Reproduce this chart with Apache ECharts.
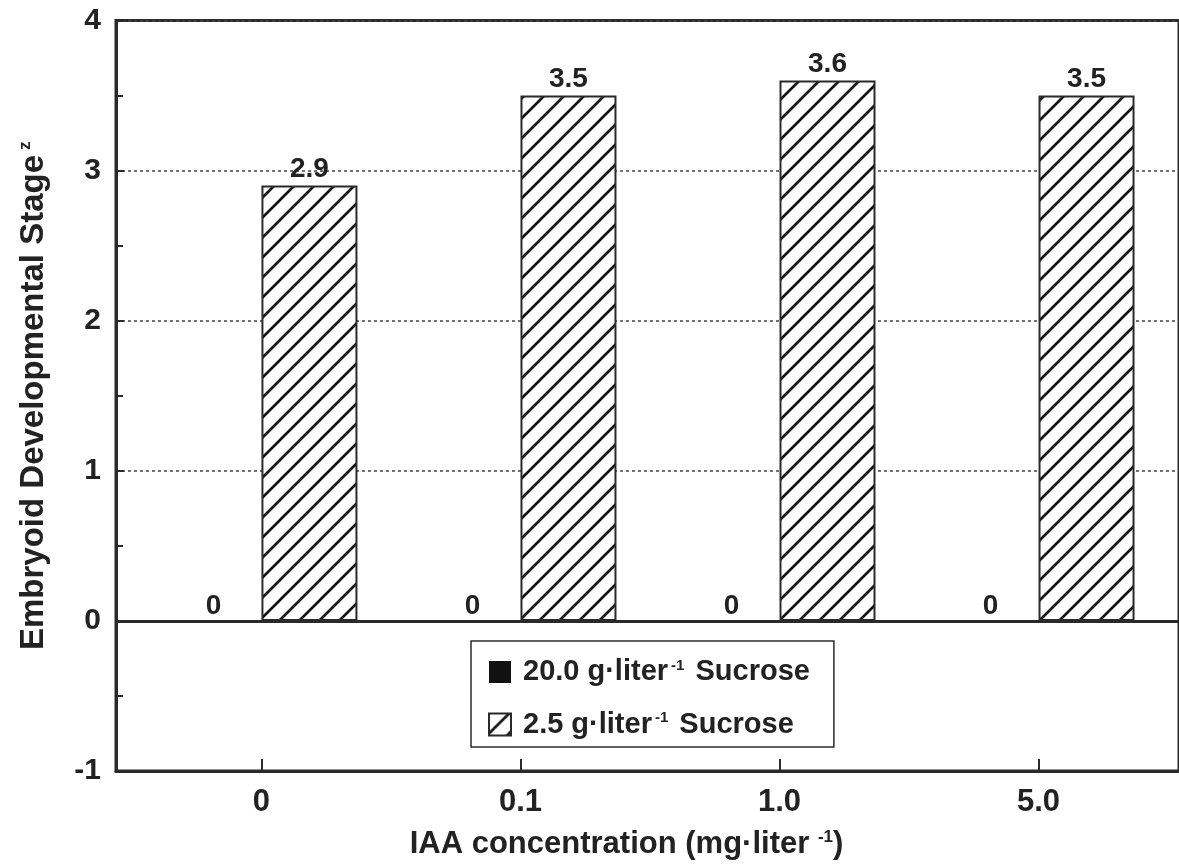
<!DOCTYPE html>
<html>
<head>
<meta charset="utf-8">
<script src="https://cdn.jsdelivr.net/npm/echarts@6/dist/echarts.min.js"></script>
<style>
  html, body { margin: 0; padding: 0; background: #ffffff; }
  #chart { width: 1179px; height: 865px; }
</style>
</head>
<body>
<div id="chart"></div>
<script>
// IAA treatments (x categories) and sucrose levels (series)
const iaaLevels = ['0', '0.1', '1.0', '5.0'];
const sucroseLevels = ['20.0', '2.5'];
// Mean embryoid developmental stage per IAA level
const stageHighSucrose = [0, 0, 0, 0];
const stageLowSucrose = [2.9, 3.5, 3.6, 3.5];

const FONT = '"Liberation Sans", Arial, Helvetica, sans-serif';
const INK = '#222222';
const LINE = '#2a2a2a';

// Diagonal "/" hatching used for the low-sucrose bars
function hatchPattern() {
  const s = 20;
  const c = document.createElement('canvas');
  c.width = s; c.height = s;
  const g = c.getContext('2d');
  g.fillStyle = '#ffffff';
  g.fillRect(0, 0, s, s);
  g.strokeStyle = '#161616';
  g.lineWidth = 2.7;
  g.beginPath();
  g.moveTo(-2, s + 2); g.lineTo(s + 2, -2);
  g.moveTo(-2, 2); g.lineTo(2, -2);
  g.moveTo(s - 2, s + 2); g.lineTo(s + 2, s - 2);
  g.stroke();
  return c;
}

const toPoints = (vals) => vals.map((v, i) => [i, v]);

const valueLabel = (dist) => ({
  show: true,
  position: 'top',
  distance: dist,
  formatter: (p) => String(p.value[1]),
  fontFamily: FONT,
  fontWeight: 'bold',
  fontSize: 28,
  color: INK
});

const chart = echarts.init(document.getElementById('chart'), null, { renderer: 'canvas' });

chart.setOption({
  animation: false,
  backgroundColor: '#ffffff',
  grid: {
    left: 116,
    top: 20.5,
    right: -3,
    bottom: 92,
    show: true,
    borderColor: LINE,
    borderWidth: 3,
    backgroundColor: 'transparent'
  },
  legend: {
    orient: 'vertical',
    left: 471,
    top: 641,
    padding: [16, 24, 8, 17],
    itemWidth: 22,
    itemHeight: 22,
    itemGap: 23,
    icon: 'rect',
    backgroundColor: '#ffffff',
    borderColor: LINE,
    borderWidth: 1.5,
    borderRadius: 0,
    selectedMode: false,
    data: sucroseLevels,
    formatter: (name) => '{t|' + name + ' g·liter}{sup|-1}{t| Sucrose}',
    textStyle: {
      fontFamily: FONT,
      fontWeight: 'bold',
      fontSize: 29,
      color: INK,
      padding: [0, 0, 0, 7],
      rich: {
        t: { fontFamily: FONT, fontWeight: 'bold', fontSize: 29, color: INK, lineHeight: 30 },
        sup: { fontFamily: FONT, fontWeight: 'bold', fontSize: 15, color: INK, verticalAlign: 'top', lineHeight: 16, padding: [1, 3, 0, 3] }
      }
    }
  },
  xAxis: {
    type: 'value',
    min: -0.5615,
    max: 3.5423,
    name: 'IAA concentration (mg·liter {sup|-1})',
    nameLocation: 'middle',
    nameGap: 58,
    nameTextStyle: {
      fontFamily: FONT,
      fontWeight: 'bold',
      fontSize: 31,
      color: INK,
      padding: [0, 42, 0, 0],
      rich: {
        sup: { fontFamily: FONT, fontWeight: 'bold', fontSize: 17, color: INK, verticalAlign: 'top', lineHeight: 19 }
      }
    },
    axisLine: { show: true, onZero: false, lineStyle: { color: LINE, width: 3 } },
    axisTick: { show: true, inside: true, length: 12, customValues: [0, 1, 2, 3], lineStyle: { color: LINE, width: 2 } },
    axisLabel: {
      customValues: [0, 1, 2, 3],
      formatter: (v) => iaaLevels[Math.round(v)] ?? '',
      margin: 16,
      fontFamily: FONT,
      fontWeight: 'bold',
      fontSize: 31,
      color: INK
    },
    splitLine: { show: false }
  },
  yAxis: {
    type: 'value',
    min: -1,
    max: 4,
    interval: 1,
    name: 'Embryoid Developmental Stage{sup|z}',
    nameLocation: 'middle',
    nameGap: 66,
    nameTextStyle: {
      fontFamily: FONT,
      fontWeight: 'bold',
      fontSize: 33,
      color: INK,
      rich: {
        sup: { fontFamily: FONT, fontWeight: 'bold', fontSize: 17, color: INK, verticalAlign: 'top', lineHeight: 18, padding: [0, 0, 0, 5] }
      }
    },
    axisLine: { show: true, onZero: false, lineStyle: { color: LINE, width: 3 } },
    axisTick: { show: true, inside: true, length: 8, lineStyle: { color: LINE, width: 2 } },
    minorTick: { show: true, splitNumber: 2, length: 7, lineStyle: { color: LINE, width: 2 } },
    axisLabel: {
      margin: 15,
      fontFamily: FONT,
      fontWeight: 'bold',
      fontSize: 30,
      color: INK
    },
    splitLine: { show: true, lineStyle: { color: '#444444', width: 1.5, type: [3, 3] } }
  },
  series: [
    {
      name: sucroseLevels[0],
      type: 'bar',
      data: toPoints(stageHighSucrose),
      barWidth: 96,
      barGap: '0%',
      itemStyle: { color: '#111111' },
      label: valueLabel(1),
      markLine: {
        silent: true,
        symbol: ['none', 'none'],
        label: { show: false },
        lineStyle: { color: LINE, width: 3, type: 'solid' },
        data: [{ yAxis: 0 }]
      }
    },
    {
      name: sucroseLevels[1],
      type: 'bar',
      data: toPoints(stageLowSucrose),
      barWidth: 96,
      barGap: '0%',
      itemStyle: {
        color: { image: hatchPattern(), repeat: 'repeat' },
        borderColor: LINE,
        borderWidth: 2
      },
      label: valueLabel(2)
    }
  ]
});
</script>
</body>
</html>
